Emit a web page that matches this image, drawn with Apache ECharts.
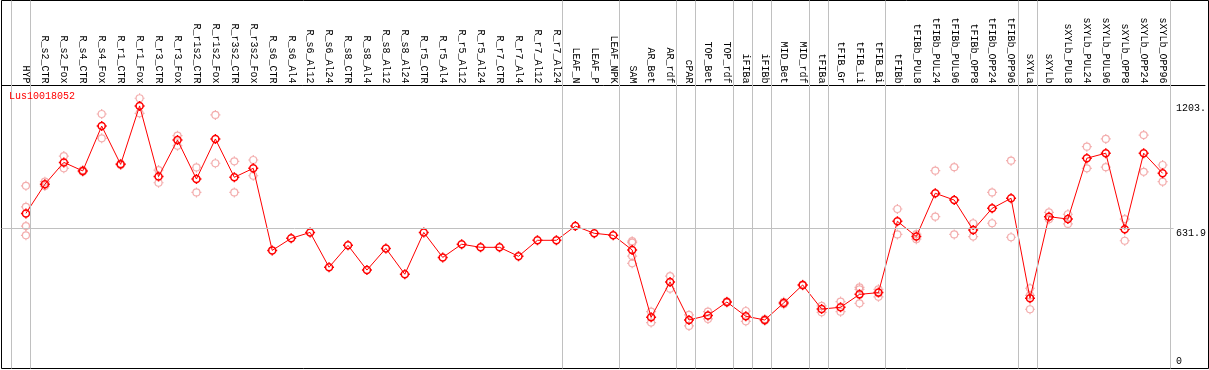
<!DOCTYPE html>
<html>
<head>
<meta charset="utf-8">
<script src="https://cdn.jsdelivr.net/npm/echarts@6/dist/echarts.min.js"></script>
<style>
  html, body { margin: 0; padding: 0; background: #fff; }
  #chart { width: 1209px; height: 370px; }
</style>
</head>
<body>
<div id="chart"></div>
<script>
// ---------------- data ----------------
const chartTitle = 'Lus10018052';

const categories = [
  'HYP', 'R_s2_CTR', 'R_s2_Fox', 'R_s4_CTR', 'R_s4_Fox', 'R_r1_CTR', 'R_r1_Fox',
  'R_r3_CTR', 'R_r3_Fox', 'R_r1s2_CTR', 'R_r1s2_Fox', 'R_r3s2_CTR', 'R_r3s2_Fox',
  'R_s6_CTR', 'R_s6_Al4', 'R_s6_Al12', 'R_s6_Al24', 'R_s8_CTR', 'R_s8_Al4',
  'R_s8_Al12', 'R_s8_Al24', 'R_r5_CTR', 'R_r5_Al4', 'R_r5_Al12', 'R_r5_Al24',
  'R_r7_CTR', 'R_r7_Al4', 'R_r7_Al12', 'R_r7_Al24', 'LEAF_N', 'LEAF_P', 'LEAF_NPK',
  'SAM', 'AR_Bet', 'AR_rdf', 'cPAR', 'TOP_Bet', 'TOP_rdf', 'iFIBa', 'iFIBb',
  'MID_Bet', 'MID_rdf', 'tFIBa', 'tFIB_Gr', 'tFIB_Li', 'tFIB_Bi', 'tFIBb',
  'tFIBb_PUL8', 'tFIBb_PUL24', 'tFIBb_PUL96', 'tFIBb_OPP8', 'tFIBb_OPP24',
  'tFIBb_OPP96', 'sXYLa', 'sXYLb', 'sXYLb_PUL8', 'sXYLb_PUL24', 'sXYLb_PUL96',
  'sXYLb_OPP8', 'sXYLb_OPP24', 'sXYLb_OPP96'
];

const meanValues = [
  700, 833, 933, 894, 1099, 924, 1191,
  868, 1035, 857, 1040, 865, 906,
  531, 586, 613, 454, 554, 441,
  540, 422, 613, 499, 559, 545,
  545, 504, 577, 577, 642, 609, 600,
  533, 225, 387, 213, 234, 295, 230, 213,
  291, 373, 263, 271, 330, 338, 664,
  594, 792, 761, 624, 723,
  769, 312, 685, 674, 952, 975,
  627, 975, 883
];

const replicateValues = [
  [826, 730, 642, 600], [845, 825], [962, 906], [898, 890], [1154, 1043], [927, 921], [1226, 1157],
  [898, 840], [1055, 1009], [910, 796], [1150, 929], [938, 796], [944, 872],
  [], [], [], [], [], [],
  [], [], [], [], [], [],
  [], [], [], [], [], [], [],
  [573, 566, 505, 472], [251, 201], [413, 356], [236, 186], [251, 218], [298, 292], [254, 207], [217, 209],
  [296, 285], [375, 371], [277, 248], [297, 251], [362, 353, 289], [353, 319], [720, 604],
  [605, 582], [895, 685], [911, 604], [655, 594], [796, 655],
  [941, 591], [358, 325, 262], [705, 673], [696, 652], [1005, 906], [1040, 911],
  [674, 575], [1058, 890], [921, 845]
];

// indices of the last category of each group (-1 = before the first)
const groupEnds = [-1, 0, 28, 31, 34, 35, 37, 38, 39, 41, 42, 45, 52, 53, 60];

const yTickValues = [0, 631.9, 1203];
const yTickLabels = ['0', '631.9', '1203.'];
const refLineValue = 631.9;

// ---------------- chart ----------------
const FONT = 'Liberation Mono, DejaVu Sans Mono, monospace';
const X_MIN = (1.5 - 26) / 19;
const X_MAX = (1208.5 - 26) / 19;
const Y_MIN = -8.68;
const Y_MAX = 1284.3;
const TICK_CIRCLE = 'path://M5,0V1.6M5,8.4V10M0,5H1.6M8.4,5H10M8.5,5A3.5,3.5,0,1,1,1.5,5A3.5,3.5,0,1,1,8.5,5Z';

const meanData = meanValues.map((v, i) => [i, v]);
const repData = [];
replicateValues.forEach((arr, i) => arr.forEach(v => repData.push([i, v])));

function yLabel(v) {
  let best = 0;
  yTickValues.forEach((t, k) => { if (Math.abs(t - v) < Math.abs(yTickValues[best] - v)) best = k; });
  return yTickLabels[best];
}

const chart = echarts.init(document.getElementById('chart'), null, { renderer: 'canvas' });

const yLabelBase = {
  inside: true,
  align: 'left',
  margin: 29,
  fontSize: 10,
  fontFamily: FONT,
  color: '#000',
  formatter: yLabel
};

chart.setOption({
  animation: false,
  backgroundColor: '#fff',
  title: {
    text: chartTitle,
    left: 9,
    top: 91,
    padding: 0,
    textStyle: { color: '#ff0000', fontSize: 10, fontWeight: 'normal', fontFamily: FONT }
  },
  grid: [
    { left: 1.5, right: 0.5, top: 85.5, bottom: 1.5, containLabel: false },
    { left: 1.5, right: 0.5, top: 0.5, bottom: 1.5, containLabel: false, show: true,
      borderColor: '#000', borderWidth: 1, backgroundColor: 'transparent' }
  ],
  xAxis: [
    {
      gridIndex: 0, type: 'value', position: 'top', min: X_MIN, max: X_MAX,
      axisLine: { show: true, onZero: false, lineStyle: { color: '#000', width: 1 } },
      axisTick: { show: false },
      splitLine: { show: false },
      axisLabel: {
        show: true,
        customValues: categories.map((c, i) => i),
        formatter: v => categories[Math.round(v)],
        rotate: 90,
        margin: 2,
        fontSize: 10,
        fontFamily: FONT,
        color: '#000',
        hideOverlap: false
      }
    },
    {
      gridIndex: 1, type: 'value', min: X_MIN, max: X_MAX, show: false
    }
  ],
  yAxis: [
    {
      gridIndex: 0, type: 'value', position: 'right', min: Y_MIN, max: Y_MAX,
      axisLine: { show: false }, axisTick: { show: false }, splitLine: { show: false },
      axisLabel: Object.assign({}, yLabelBase, {
        customValues: yTickValues.slice(1),
        verticalAlign: 'top'
      })
    },
    {
      gridIndex: 0, type: 'value', position: 'right', min: Y_MIN, max: Y_MAX,
      axisLine: { show: false }, axisTick: { show: false }, splitLine: { show: false },
      axisLabel: Object.assign({}, yLabelBase, {
        customValues: yTickValues.slice(0, 1),
        verticalAlign: 'bottom'
      })
    },
    {
      gridIndex: 1, type: 'value', min: 0, max: 1, show: false
    }
  ],
  series: [
    {
      type: 'line',
      xAxisIndex: 1, yAxisIndex: 2,
      data: [],
      silent: true,
      markLine: {
        silent: true,
        symbol: ['none', 'none'],
        label: { show: false },
        lineStyle: { color: '#c0c0c0', width: 1, type: 'solid' },
        data: groupEnds.map(g => ({ xAxis: g + 0.23 }))
      }
    },
    {
      type: 'scatter',
      xAxisIndex: 0, yAxisIndex: 0,
      data: repData,
      symbol: TICK_CIRCLE,
      symbolSize: 10,
      itemStyle: { color: 'none', borderColor: '#f09a9a', borderWidth: 1.2 },
      z: 3,
      silent: true
    },
    {
      type: 'line',
      xAxisIndex: 0, yAxisIndex: 0,
      data: meanData,
      symbol: TICK_CIRCLE,
      symbolSize: 10,
      showAllSymbol: true,
      lineStyle: { color: '#ff0000', width: 1 },
      itemStyle: { color: 'none', borderColor: '#ff0000', borderWidth: 1.5 },
      z: 4,
      silent: true,
      markLine: {
        silent: true,
        symbol: ['none', 'none'],
        label: { show: false },
        lineStyle: { color: '#c0c0c0', width: 1, type: 'solid' },
        data: [[{ coord: [X_MIN, refLineValue] }, { coord: [60.58, refLineValue] }]]
      }
    }
  ]
});
</script>
</body>
</html>
